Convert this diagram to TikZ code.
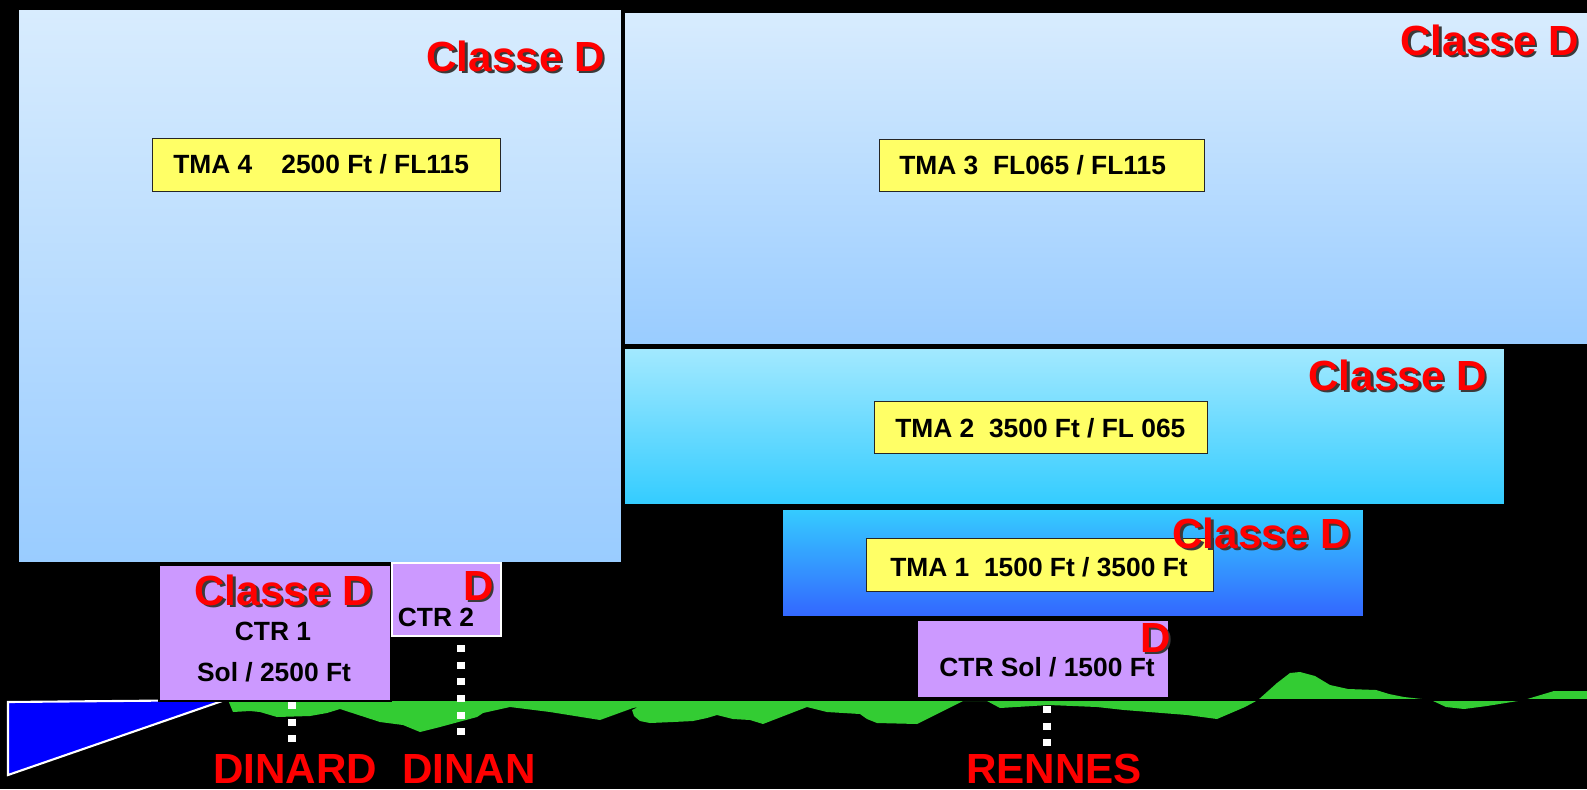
\documentclass[tikz,border=0pt]{standalone}
\usepackage{fontspec}
\setmainfont{Liberation Sans}
\definecolor{lbly}{HTML}{FFFF66}
\definecolor{ctrp}{HTML}{CC99FF}
\definecolor{grn}{HTML}{33CC33}
\definecolor{skyA}{HTML}{D8ECFE}
\definecolor{skyB}{HTML}{99CCFF}
\definecolor{cyA}{HTML}{A3E9FF}
\definecolor{cyB}{HTML}{33CCFF}
\definecolor{blA}{HTML}{35CCFF}
\definecolor{blM}{HTML}{36B4FF}
\definecolor{blB}{HTML}{3366FF}
\definecolor{triblue}{HTML}{0000FF}
\definecolor{shd}{HTML}{3A3A3A}
\definecolor{redtxt}{HTML}{FF0000}
\newcommand\redfnt{\fontsize{24}{28}\selectfont\bfseries}
\newcommand\blkfnt{\fontsize{15}{18}\selectfont\bfseries}
\newcommand\clslabel[5]{%
  \node[clsshadow,anchor=#2] (#1s) at (#3,#4) {#5};
  \node[cls,anchor=#2] (#1) at (#3,#4) {#5};}
\begin{document}
\begin{tikzpicture}[x=0.02cm,y=-0.02cm,
  zone/.style={draw=black,line width=1.2pt},
  lblbox/.style={draw=black!85,line width=0.6pt,fill=lbly,inner sep=0pt,anchor=north west},
  lbltxt/.style={font=\blkfnt,inner sep=0pt,anchor=base west},
  cls/.style={text=redtxt,font=\redfnt,inner sep=0pt},
  clsshadow/.style={text=shd,font=\redfnt,inner sep=0pt,xshift=0.05cm,yshift=-0.05cm},
  ctrtxt/.style={font=\blkfnt,inner sep=0pt,anchor=base},
  city/.style={text=redtxt,font=\redfnt,inner sep=0pt,anchor=base},
  marker/.style={white,line width=4pt,dash pattern=on 3.98pt off 5.5pt}
]
\fill[black] (0,0) rectangle (1587,789);
\useasboundingbox (0,0) rectangle (1587,789);

% TMA 4
\shade[top color=skyA,bottom color=skyB] (18,9) rectangle (622,563);
\draw[zone] (18,9) rectangle (622,563);
% TMA 3
\shade[top color=skyA,bottom color=skyB] (624,12) rectangle (1600,345);
\draw[zone] (1600,345) -- (624,345) -- (624,12) -- (1600,12);
% TMA 2
\shade[top color=cyA,bottom color=cyB] (624,348) rectangle (1505,505);
\draw[zone] (624,348) rectangle (1505,505);
% TMA 1
\shade[top color=blA,middle color=blM,bottom color=blB] (782,509) rectangle (1364,617);
\draw[zone] (782,509) rectangle (1364,617);

% terrain
\fill[grn] (228,700) -- (1258,700) -- (1277,683) -- (1290,673) -- (1300,672) -- (1315,676)
  -- (1330,685) -- (1348,689) -- (1376,690) -- (1389,694) -- (1404,697) -- (1431,700)
  -- (1524,700) -- (1554,691) -- (1587,691) -- (1587,700) -- (1524,700) -- (1487,706)
  -- (1464,709) -- (1446,707) -- (1431,700) -- (1258,700) -- (1245,707) -- (1217,719)
  -- (1187,715) -- (1124,710) -- (1097,707) -- (1049,705) -- (1000,708) -- (987,701)
  -- (963,701) -- (917,724) -- (877,723) -- (867,719) -- (860,714) -- (827,712)
  -- (807,707) -- (763,724) -- (750,720) -- (733,719) -- (717,715) -- (707,718)
  -- (693,721) -- (673,722) -- (650,723) -- (640,721) -- (634,716) -- (632,710)
  -- (638,707) -- (633,708) -- (600,720) -- (550,712) -- (510,707) -- (483,713)
  -- (477,717) -- (440,727) -- (420,732) -- (403,725) -- (380,722) -- (340,709)
  -- (327,713) -- (310,716) -- (277,717) -- (260,712) -- (250,711) -- (233,712) -- cycle;
\draw[black,line width=0.6pt] (228,700) -- (1587,700);

% sea triangle
\draw[white,line width=1.2pt,fill=triblue] (8,702) -- (225,700) -- (8,775) -- cycle;

% CTRs
\fill[ctrp] (159,565) rectangle (391,701);
\draw[zone] (159,565) rectangle (391,701);
\draw[white,line width=0.9pt,fill=ctrp] (392,563) rectangle (501,636);
\fill[ctrp] (917,620) rectangle (1169,698);
\draw[zone] (917,620) rectangle (1169,698);

% markers
\coordinate (m1a) at (292,702); \coordinate (m1b) at (292,745);
\coordinate (m2a) at (461,645); \coordinate (m2b) at (461,740);
\coordinate (m3a) at (1047,706); \coordinate (m3b) at (1047,748);
\draw[marker] (m1a) -- (m1b);
\draw[marker] (m2a) -- (m2b);
\draw[marker] (m3a) -- (m3b);

% label boxes
\node[lblbox,minimum width=6.96cm,minimum height=1.06cm] (b4) at (152,138) {};
\node[lblbox,minimum width=6.5cm,minimum height=1.04cm] (b3) at (879,139) {};
\node[lblbox,minimum width=6.66cm,minimum height=1.04cm] (b2) at (874,401) {};
\node[lblbox,minimum width=6.94cm,minimum height=1.06cm] (b1) at (866,538) {};
\node[lbltxt] (t4) at (173,173) {TMA 4\hspace{1.1em}2500 Ft / FL115};
\node[lbltxt] (t3) at (899,174) {TMA 3\hspace{0.556em}FL065 / FL115};
\node[lbltxt] (t2) at (895,437) {TMA 2\hspace{0.556em}3500 Ft / FL 065};
\node[lbltxt] (t1) at (890,576) {TMA 1\hspace{0.556em}1500 Ft / 3500 Ft};

\clslabel{c4}{base east}{605}{71}{Classe D}
\clslabel{c3}{base east}{1579}{55}{Classe D}
\clslabel{c2}{base east}{1487}{390}{Classe D}
\clslabel{c1}{base east}{1351}{548}{Classe D}
\clslabel{cc1}{base east}{373}{605}{Classe D}
\clslabel{cc2}{base east}{494}{600}{D}
\clslabel{cc3}{base east}{1171}{652}{D}

\node[ctrtxt] (ctr1a) at (273,640) {CTR 1};
\node[ctrtxt] (ctr1b) at (274,681) {Sol / 2500 Ft};
\node[ctrtxt] (ctr2) at (436,626) {CTR 2};
\node[ctrtxt] (ctr3) at (1047,676) {CTR Sol / 1500 Ft};

\node[city] (dinard) at (295,783) {DINARD};
\node[city] (dinan) at (469,783) {DINAN};
\node[city] (rennes) at (1054,783) {RENNES};
\end{tikzpicture}
\end{document}
